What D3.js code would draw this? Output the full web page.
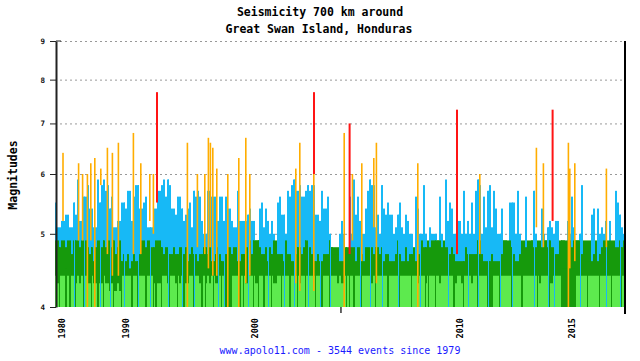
<!DOCTYPE html>
<html>
<head>
<meta charset="utf-8">
<script src="https://cdn.jsdelivr.net/npm/d3@7"></script>
<style>
  body { margin: 0; background: #fff; }
  text { font-family: "DejaVu Sans Mono", monospace; }
</style>
</head>
<body>
<div id="chart"></div>
<script>
// chart values (one entry per 2px column of events)
const blueTop = [
  5.5,5.1,5.1,5.2,5.2,5.3,5.3,5.1,5.1,5.5,
  5.3,5.9,5.2,5.2,5.6,5.6,5.8,5.4,5.4,5.1,
  5.1,5.9,5.5,5.8,5.9,5.7,5.8,5.4,5.6,5.1,
  5.1,5.2,5.2,5.5,5.5,5.4,5.7,5.7,5.2,5.6,
  5.8,5.8,5.4,5.4,5.5,5.6,5.1,5.1,5.1,5.4,
  5.4,5.7,5.7,5.8,5.9,5.6,5.9,5.8,5.4,5.4,
  5.3,5.6,5.6,5.4,5.2,5.3,5.4,5.5,5.1,5.7,
  5.6,5.7,5.6,5.2,5.0,5.0,5.7,5.7,5.6,5.6,
  5.6,5.2,5.6,5.6,5.2,5.6,5.4,5.4,5.2,5.1,
  5.1,5.7,5.2,5.2,5.2,5.2,5.3,5.4,5.2,5.2,
  4.9,4.9,5.4,5.5,5.1,5.4,5.2,5.0,5.2,5.0,
  4.8,5.5,5.6,5.3,5.3,5.0,5.7,5.6,5.8,5.9,
  5.7,5.7,5.8,5.6,5.6,5.7,5.8,5.7,5.8,5.8,
  5.3,5.3,5.2,5.7,5.4,5.4,5.6,5.0,4.8,4.8,
  4.8,4.8,5.0,5.2,5.0,4.8,4.8,5.6,5.0,5.9,
  5.3,5.6,5.2,5.0,5.0,5.4,5.7,5.9,5.8,5.8,
  5.1,5.3,5.0,5.8,5.4,5.3,5.5,5.3,5.3,5.0,
  5.1,5.3,5.5,5.1,5.0,5.3,5.2,5.0,5.0,4.8,
  5.6,5.4,5.0,5.0,5.8,5.0,4.8,5.1,5.0,5.0,
  5.0,4.9,5.6,5.0,4.9,5.9,5.2,5.5,5.4,5.0,
  5.0,5.2,5.2,5.0,5.7,5.0,5.2,5.0,5.5,5.0,
  5.7,5.9,5.8,5.0,5.6,5.1,5.7,5.8,5.1,5.7,
  5.4,5.0,5.0,5.4,4.9,4.9,4.8,5.5,5.5,5.5,
  5.0,5.7,5.0,4.9,4.9,5.6,4.9,4.9,4.9,5.7,
  5.0,4.9,4.9,5.4,5.0,4.9,5.1,5.2,5.1,5.0,
  5.2,5.2,4.9,4.9,4.9,4.9,5.2,5.0,5.6,5.1,
  4.9,4.9,5.0,5.8,4.9,4.9,4.9,4.9,5.3,5.4,
  4.9,5.4,5.0,5.1,5.0,5.2,4.9,5.2,4.9,4.9,
  5.7,5.5,5.3,5.1,5.0,5.1
];

const greenTop = [
  4.9,4.9,4.8,4.9,4.9,4.8,4.9,4.9,4.7,4.9, 4.9,4.9,4.8,4.9,4.9,4.9,4.8,4.7,4.8,4.6,
  4.8,4.9,4.9,4.8,4.9,4.8,4.9,4.9,4.8,4.9, 4.7,4.8,4.9,4.6,4.7,4.6,4.7,4.5,4.6,4.7,
  4.6,4.6,4.7,4.9,4.9,4.8,4.9,4.9,
  4.8,4.8,4.9,4.9,4.9,4.8,4.7,4.8,4.8,4.7, 4.7,4.8,4.7,4.7,4.8,4.8,4.7,4.8,4.6,4.7,
  4.8,4.7,4.7,4.6,4.7,4.7,4.8,4.8,4.7,4.8, 4.6,4.6,4.7,4.8,4.7,4.6,4.6,4.7,4.8,4.8,
  4.7,4.8,4.8,4.6,4.6,4.7,4.7,4.8,
  4.8,4.9,4.7,4.9,4.9,4.9,4.8,4.7,4.7,4.8, 4.6,4.8,4.7,4.9,4.9,4.7,4.7,4.7,4.6,4.9,
  4.7,4.7,4.6,4.6,4.7,4.8,4.8,4.7,4.8,4.9, 4.9,4.8,4.7,4.6,4.6,4.7,4.6,4.6,4.7,4.7,
  4.7,4.9,4.8,4.7,4.6,4.7,
  4.6,4.6,4.6,4.6,4.7,4.8,4.8,4.8,4.6,4.8, 4.8,4.7,4.6,4.8,4.8,4.8,4.8,4.7,4.8,4.8,
  4.7,4.8,4.6,4.7,4.7,4.6,4.6,4.6,4.7,4.9, 4.7,4.6,4.6,4.8,4.6,4.7,4.7,4.6,4.6,4.7,
  4.7,4.9,4.8,4.8,4.9,4.8,4.9,4.9,
  4.9,4.9,4.9,4.8,4.8,4.8,4.8,4.7,4.8,4.7, 4.6,4.6,4.6,4.6,4.6,4.8,4.7,4.7,4.7,4.7,
  4.7,4.9,4.9,4.7,4.6,4.6,4.6,4.6,4.7,4.6, 4.6,4.6,4.6,4.7,4.9,4.9,4.9,4.9,4.8,4.7,
  4.6,4.6,4.7,4.8,4.8,4.8,4.8,4.8,
  4.9,4.8,4.8,4.8,4.8,4.8,4.9,4.9,4.8,4.9, 4.8,4.8,4.7,4.7,4.8,4.9,4.9,4.8,4.9,4.9,
  4.8,4.9,4.9,4.9,4.9,4.7,4.7,4.6,4.6,4.6, 4.6,4.7,4.6,4.6,4.7,4.8,4.9,4.9,4.8,4.9,
  4.8,4.8,4.8,4.8,4.9,4.8,4.9,4.9
];

// 0 = no small event drawn last in that column
const lightTop = [
  4.4,4.3,4.4,4.4,4.4,4.5,4.4,0,4.4,4.4, 4.3,4.4,4.3,4.4,0,4.4,4.3,4.3,4.4,4.3,
  4.3,0,4.3,4.3,4.4,4.3,4.3,4.2,4.3,4.2, 4.2,4.3,4.2,4.4,4.4,4.4,4.4,4.4,0,4.4,
  4.4,4.4,4.4,4.4,4.4,0,4.4,4.4,
  4.4,4.3,0,4.3,4.3,4.4,4.4,4.4,4.3,4.4, 4.4,4.4,4.3,4.4,4.3,4.4,0,4.3,4.3,4.4,
  4.4,4.3,4.4,4.4,4.3,0,4.4,4.3,4.4,4.3, 4.4,4.4,4.3,4.3,4.4,4.4,4.4,4.5,4.5,4.5,
  4.4,4.4,4.4,4.4,0,4.4,4.4,4.3,
  4.3,4.4,4.4,4.4,4.3,4.3,4.4,4.4,0,4.4, 4.4,4.4,4.4,4.3,4.3,4.4,4.4,4.4,4.4,4.4,
  4.4,0,4.4,4.4,4.4,4.4,4.3,4.4,4.4,4.4, 4.4,4.4,4.4,4.4,4.4,4.4,4.4,0,4.4,4.4,
  4.4,4.4,4.4,4.4,4.4,4.3,
  4.4,4.3,4.3,4.4,4.4,4.4,4.4,0,4.4,4.4, 4.4,4.4,4.4,4.4,4.4,4.4,4.3,4.4,4.4,4.4,
  4.4,4.4,4.4,4.4,0,4.4,4.4,4.4,4.4,4.4, 4.4,4.4,4.4,4.4,4.4,4.4,4.4,4.4,4.4,4.3,
  4.4,4.4,4.4,4.3,4.4,4.4,4.4,4.4,
  4.4,4.4,4.3,4.4,4.4,4.4,4.4,4.4,4.4,0, 4.3,4.4,4.4,4.3,4.4,4.4,4.4,4.4,4.3,4.4,
  4.4,4.4,4.4,4.4,4.4,4.4,4.5,4.5,4.5,4.4, 4.4,4.4,0,4.4,4.4,4.4,4.4,4.4,4.4,4.4,
  4.4,4.4,4.4,0,4.4,4.4,4.4,4.4,
  4.4,4.4,4.4,4.4,4.3,4.4,4.4,4.4,4.4,4.3, 4.3,4.4,4.4,4.4,4.4,4.5,4.5,4.5,4.5,4.5,
  4.5,4.5,4.4,4.4,4.4,4.4,4.4,4.4,4.4,4.4, 4.4,4.4,4.4,4.4,4.4,4.4,4.4,4.4,4.4,4.4,
  4.4,4.4,4.4,4.4,4.4,4.4,4.4,4.4
];

// columns where a single M4.5-4.9 event was the last one drawn (thin dark stripe)
const greenStripe = [2,10,18,24,29,33,41,49,53,57,61,66,69,75,79,83,88,94,99,108,
                     113,121,125,130,137,147,153,160,172,178,185,190,204,211,217,228,241,247,253,260,
                     266,272,278,283];
// columns where the column's M5 event was the last one drawn (thin blue stripe)
const blueStripe = [9,14,22,27,34,41,47,56,63,69,81,84,91,96,101,106,114,119,126,132,
                    137,145,152,157,163,171,182,186,196,206,211,216,222,228,239,246,249,262,275,282];

// strong events (M6+): column, magnitude, level where later events cover it
const bigCol  = [3.6,11.4,13.4,15.8,17.5,19.5,22.5,25.8,28.3,31.3, 38.8,42.5,47,48.8,50.5,65.8,70.8,74.5,76.3,77.3,
                 78.5,80.5,86,91.5,95,97,120,122,129,129, 144.2,146.8,148.3,153,159,160.3,181,200.5,212,240.3,
                 243.8,248.3,256.3,257,259.5,275.3];
const bigMag  = [6.4,6.2,6.0,6.0,6.2,6.3,6.1,6.5,6.4,6.6, 6.8,6.2,6.0,6.0,7.7,6.6,6.0,6.0,6.7,6.6,
                 6.5,6.1,6.0,6.3,6.7,6.0,6.1,6.6,7.7,6.0, 6.8,7.0,6.0,6.2,6.3,6.6,6.2,7.3,6.0,6.5,
                 6.2,7.3,6.6,6.1,6.2,6.1];
const bigBase = [5.2,4.9,4.9,4.0,4.9,4.0,5.8,4.7,4.4,4.4, 4.7,4.7,5.2,5.0,5.5,4.0,4.8,4.7,4.5,4.8,
                 4.4,4.4,4.0,4.0,4.3,4.4,4.3,4.2,6.0,4.2, 4.0,4.7,4.9,4.6,5.1,4.3,4.0,4.7,4.7,5.1,
                 4.8,5.2,4.0,4.5,4.6,4.8];

const magTicks = [4,5,6,7,8,9];
const yearLabels = ['1980','1990','2000','','2010','2015'];
const yearEvent  = [62, 460, 1262, 1778, 2537, 3233];   // event number where the year starts
const totalEvents = 3544;

const svgwidth = 640;
const svgheight = 361;

const svg = d3.select('#chart').append('svg')
    .attr('width', svgwidth).attr('height', svgheight);

// scales
const x = d3.scaleLinear().domain([0, 285]).range([55, 625]);
const xEvent = d3.scaleLinear().domain([0, totalEvents]).range([55, 625]);
const y = d3.scaleLog().domain([4, 9]).range([307, 41]);

function magColor(m) {
    if (m >= 7) return '#ff1414';
    if (m >= 6) return '#ffad00';
    if (m >= 5) return '#17b9f6';
    if (m >= 4.5) return '#169a0c';
    return '#5dea4e';
}

//titles
svg.append('text').attr('x', 320).attr('y', 16)
    .attr('text-anchor', 'middle').attr('font-size', 11.5).attr('font-weight', 'bold')
    .text('Seismicity 700 km around');
svg.append('text').attr('x', 319).attr('y', 33)
    .attr('text-anchor', 'middle').attr('font-size', 11.5).attr('font-weight', 'bold')
    .text('Great Swan Island, Honduras');

svg.append('text')
    .attr('transform', 'translate(17,175) rotate(-90)')
    .attr('text-anchor', 'middle').attr('font-size', 11.5).attr('font-weight', 'bold')
    .text('Magnitudes');

svg.append('text').attr('x', 340).attr('y', 354)
    .attr('text-anchor', 'middle').attr('font-size', 10).attr('fill', '#1a1aff')
    .text('www.apolo11.com - 3544 events since 1979');

// dotted grid lines
svg.append('g').selectAll('line')
    .data(magTicks.filter(d => d > 4)).enter()
    .append('line')
    .attr('x1', 60).attr('x2', 622)
    .attr('y1', d => y(d) + 0.5).attr('y2', d => y(d) + 0.5)
    .attr('stroke', '#999').attr('stroke-dasharray', '2,3');

// plot area clip
svg.append('clipPath').attr('id', 'plotclip')
    .append('rect').attr('x', 54).attr('y', 30).attr('width', 570).attr('height', 277);

const bars = svg.append('g').attr('clip-path', 'url(#plotclip)');

function layer(values) {
    bars.append('g').selectAll('rect')
        .data(values.map((m, i) => ({ i: i, m: m })).filter(d => d.m > 4)).enter()
        .append('rect')
        .attr('x', d => x(d.i))
        .attr('width', d => x(d.i + 1) - x(d.i))
        .attr('y', d => y(d.m))
        .attr('height', d => y(4) - y(d.m))
        .attr('fill', d => magColor(d.m));
}

layer(blueTop);
layer(greenTop);
layer(lightTop);

// thin stripes of the last drawn events
function stripes(cols, values, shift) {
    bars.append('g').selectAll('rect')
        .data(cols.map(c => ({ c: c, m: values[c] }))).enter()
        .append('rect')
        .attr('x', d => x(d.c) + shift)
        .attr('width', 1)
        .attr('y', d => y(d.m))
        .attr('height', d => y(4) - y(d.m))
        .attr('fill', d => magColor(d.m));
}
stripes(greenStripe, greenTop, 0);
stripes(blueStripe, blueTop, 1);

// strong events on top
bars.append('g').selectAll('rect')
    .data(bigCol.map((c, i) => ({ c: c, m: bigMag[i], b: bigBase[i] }))).enter()
    .append('rect')
    .attr('x', d => x(d.c))
    .attr('width', d => d.m >= 7 ? 2 : 1.6)
    .attr('y', d => y(d.m))
    .attr('height', d => y(d.b) - y(d.m))
    .attr('fill', d => magColor(d.m));

// left axis
const yAxis = d3.axisLeft(y)
    .tickValues(magTicks)
    .tickFormat(d3.format('d'))
    .tickSize(6).tickSizeOuter(0).tickPadding(5);

const yAxisG = svg.append('g')
    .attr('transform', 'translate(56,0)')
    .call(yAxis);
yAxisG.select('.domain').attr('stroke', '#222').attr('stroke-width', 2);
yAxisG.selectAll('.tick line').attr('stroke', '#222');
yAxisG.selectAll('.tick text')
    .attr('font-family', '"DejaVu Sans Mono", monospace')
    .attr('font-size', 7.5).attr('font-weight', 'bold').attr('fill', '#111');
yAxisG.append('line').attr('x1', 0).attr('x2', 5).attr('y1', y(9)).attr('y2', y(9)).attr('stroke', '#222');

// right border
svg.append('line').attr('x1', 625).attr('x2', 625).attr('y1', 41).attr('y2', 314)
    .attr('stroke', '#000').attr('stroke-width', 2);

// year labels along the event axis
const years = svg.append('g');
years.selectAll('text')
    .data(yearLabels.map((t, i) => ({ t: t, e: yearEvent[i] })).filter(d => d.t !== '')).enter()
    .append('text')
    .attr('transform', d => `translate(${xEvent(d.e)},318) rotate(-90)`)
    .attr('text-anchor', 'end')
    .attr('font-size', 8.5).attr('font-weight', 'bold')
    .text(d => d.t);

years.selectAll('line')
    .data(yearLabels.map((t, i) => ({ t: t, e: yearEvent[i] })).filter(d => d.t === '')).enter()
    .append('line')
    .attr('x1', d => xEvent(d.e)).attr('x2', d => xEvent(d.e))
    .attr('y1', 307).attr('y2', 313)
    .attr('stroke', '#000').attr('stroke-width', 1.2);
</script>
</body>
</html>
